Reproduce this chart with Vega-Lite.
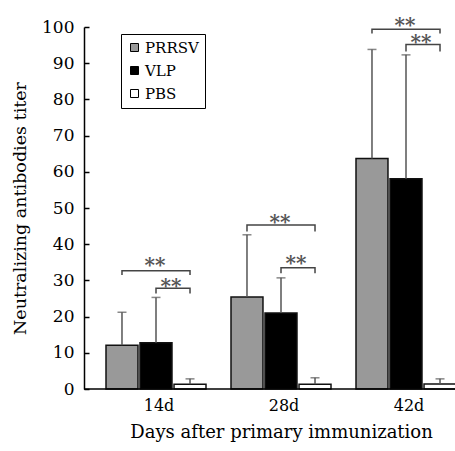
{
  "$schema": "https://vega.github.io/schema/vega-lite/v6.json",
  "width": 371,
  "height": 362,
  "autosize": "none",
  "padding": {"left": 84, "top": 27, "right": 0, "bottom": 62},
  "background": "white",
  "config": {
    "view": {"stroke": null},
    "font": "DejaVu Serif",
    "axis": {"labelFont": "DejaVu Serif", "titleFont": "DejaVu Serif", "labelColor": "black", "titleColor": "black", "titleFontWeight": "normal", "grid": false},
    "axisY": {"values": [0, 10, 20, 30, 40, 50, 60, 70, 80, 90, 100], "labelOverlap": false, "labelFontSize": 17, "tickSize": -5, "tickColor": "black", "tickWidth": 1.5, "domainColor": "black", "domainWidth": 1.5, "labelPadding": 15, "titleFontSize": 17.5, "titlePadding": 12},
    "legend": {"labelFont": "DejaVu Serif", "labelColor": "black"}
  },
  "datasets": {
    "bars": [
      {"group": "14d", "series": "PRRSV", "value": 12.1, "upper": 21.2},
      {"group": "14d", "series": "VLP", "value": 12.8, "upper": 25.3},
      {"group": "14d", "series": "PBS", "value": 1.3, "upper": 2.8},
      {"group": "28d", "series": "PRRSV", "value": 25.4, "upper": 42.6},
      {"group": "28d", "series": "VLP", "value": 21.0, "upper": 30.7},
      {"group": "28d", "series": "PBS", "value": 1.3, "upper": 3.1},
      {"group": "42d", "series": "PRRSV", "value": 63.7, "upper": 93.8},
      {"group": "42d", "series": "VLP", "value": 58.1, "upper": 92.3},
      {"group": "42d", "series": "PBS", "value": 1.4, "upper": 2.8}
    ],
    "brackets": [
      {"group": "14d", "series": "PRRSV", "y": 31.5, "id": "14a", "o": 1},
      {"group": "14d", "series": "PRRSV", "y": 32.7, "id": "14a", "o": 2},
      {"group": "14d", "series": "PBS", "y": 32.7, "id": "14a", "o": 3},
      {"group": "14d", "series": "PBS", "y": 31.5, "id": "14a", "o": 4},
      {"group": "14d", "series": "VLP", "y": 26.4, "id": "14b", "o": 1},
      {"group": "14d", "series": "VLP", "y": 27.8, "id": "14b", "o": 2},
      {"group": "14d", "series": "PBS", "y": 27.8, "id": "14b", "o": 3},
      {"group": "14d", "series": "PBS", "y": 26.4, "id": "14b", "o": 4},
      {"group": "28d", "series": "PRRSV", "y": 43.5, "id": "28a", "o": 1},
      {"group": "28d", "series": "PRRSV", "y": 45.3, "id": "28a", "o": 2},
      {"group": "28d", "series": "PBS", "y": 45.3, "id": "28a", "o": 3},
      {"group": "28d", "series": "PBS", "y": 43.5, "id": "28a", "o": 4},
      {"group": "28d", "series": "VLP", "y": 32.0, "id": "28b", "o": 1},
      {"group": "28d", "series": "VLP", "y": 33.5, "id": "28b", "o": 2},
      {"group": "28d", "series": "PBS", "y": 33.5, "id": "28b", "o": 3},
      {"group": "28d", "series": "PBS", "y": 32.0, "id": "28b", "o": 4},
      {"group": "42d", "series": "PRRSV", "y": 98.2, "id": "42a", "o": 1},
      {"group": "42d", "series": "PRRSV", "y": 99.4, "id": "42a", "o": 2},
      {"group": "42d", "series": "PBS", "y": 99.4, "id": "42a", "o": 3},
      {"group": "42d", "series": "PBS", "y": 98.2, "id": "42a", "o": 4},
      {"group": "42d", "series": "VLP", "y": 93.2, "id": "42b", "o": 1},
      {"group": "42d", "series": "VLP", "y": 95.2, "id": "42b", "o": 2},
      {"group": "42d", "series": "PBS", "y": 95.2, "id": "42b", "o": 3},
      {"group": "42d", "series": "PBS", "y": 93.2, "id": "42b", "o": 4}
    ],
    "bigStars": [
      {"group": "14d", "y": 35.6, "label": "**"},
      {"group": "28d", "y": 47.5, "label": "**"},
      {"group": "42d", "y": 101.9, "label": "**"}
    ],
    "smallStars": [
      {"group": "14d", "y": 29.9, "label": "**"},
      {"group": "28d", "y": 36.1, "label": "**"},
      {"group": "42d", "y": 97.1, "label": "**"}
    ],
    "baseline": [{"y": 0}]
  },
  "layer": [
    {
      "data": {"name": "bars"},
      "mark": {"type": "bar", "stroke": "#111111", "strokeWidth": 1.5},
      "encoding": {
        "x": {
          "field": "group", "type": "nominal",
          "scale": {"range": [22, 372], "paddingInner": 0.2, "paddingOuter": 0},
          "axis": {"domain": false, "ticks": false, "labelAngle": 0, "labelFontSize": 16, "labelPadding": 8, "labelOffset": 3, "title": "Days after primary immunization", "titleFontSize": 18, "titlePadding": 10}
        },
        "xOffset": {
          "field": "series", "type": "nominal",
          "scale": {"domain": ["PRRSV", "VLP", "PBS"], "paddingInner": 0.06, "paddingOuter": 0}
        },
        "y": {
          "field": "value", "type": "quantitative",
          "scale": {"domain": [0, 100], "nice": false},
          "axis": {"values": [0, 10, 20, 30, 40, 50, 60, 70, 80, 90, 100], "labelOverlap": false, "title": "Neutralizing antibodies titer"}
        },
        "fill": {
          "field": "series", "type": "nominal",
          "scale": {"domain": ["PRRSV", "VLP", "PBS"], "range": ["#999999", "#000000", "#ffffff"]},
          "legend": {"orient": "none", "legendX": 37, "legendY": 7, "title": null, "strokeColor": "black", "padding": 6, "symbolType": "square", "symbolSize": 64, "symbolStrokeColor": "black", "symbolStrokeWidth": 1, "labelFont": "DejaVu Serif", "labelFontSize": 15, "labelColor": "black", "rowPadding": 7, "labelOffset": 3}
        }
      }
    },
    {
      "data": {"name": "bars"},
      "mark": {"type": "rule", "color": "#555555", "strokeWidth": 1.5},
      "encoding": {
        "x": {"field": "group", "type": "nominal"},
        "xOffset": {"field": "series", "type": "nominal"},
        "y": {"field": "value", "type": "quantitative", "axis": {"values": [0, 10, 20, 30, 40, 50, 60, 70, 80, 90, 100], "labelOverlap": false, "title": "Neutralizing antibodies titer"}},
        "y2": {"field": "upper"}
      }
    },
    {
      "data": {"name": "bars"},
      "mark": {"type": "tick", "color": "#555555", "size": 9, "thickness": 1.5},
      "encoding": {
        "x": {"field": "group", "type": "nominal"},
        "xOffset": {"field": "series", "type": "nominal"},
        "y": {"field": "upper", "type": "quantitative", "axis": {"values": [0, 10, 20, 30, 40, 50, 60, 70, 80, 90, 100], "labelOverlap": false, "title": "Neutralizing antibodies titer"}}
      }
    },
    {
      "data": {"name": "brackets"},
      "mark": {"type": "line", "color": "#444444", "strokeWidth": 1.5},
      "encoding": {
        "x": {"field": "group", "type": "nominal"},
        "xOffset": {"field": "series", "type": "nominal"},
        "y": {"field": "y", "type": "quantitative", "axis": {"values": [0, 10, 20, 30, 40, 50, 60, 70, 80, 90, 100], "labelOverlap": false, "title": "Neutralizing antibodies titer"}},
        "detail": {"field": "id"},
        "order": {"field": "o"}
      }
    },
    {
      "data": {"name": "bigStars"},
      "mark": {"type": "text", "font": "DejaVu Serif", "fontSize": 20, "fontWeight": "bold", "color": "#555555", "baseline": "middle", "dy": 6, "dx": -1},
      "encoding": {
        "x": {"field": "group", "type": "nominal"},
        "y": {"field": "y", "type": "quantitative", "axis": {"values": [0, 10, 20, 30, 40, 50, 60, 70, 80, 90, 100], "labelOverlap": false, "title": "Neutralizing antibodies titer"}},
        "text": {"field": "label"}
      }
    },
    {
      "data": {"name": "smallStars"},
      "mark": {"type": "text", "font": "DejaVu Serif", "fontSize": 20, "fontWeight": "bold", "color": "#555555", "baseline": "middle", "dy": 6, "dx": 15},
      "encoding": {
        "x": {"field": "group", "type": "nominal"},
        "y": {"field": "y", "type": "quantitative", "axis": {"values": [0, 10, 20, 30, 40, 50, 60, 70, 80, 90, 100], "labelOverlap": false, "title": "Neutralizing antibodies titer"}},
        "text": {"field": "label"}
      }
    },
    {
      "data": {"name": "baseline"},
      "mark": {"type": "rule", "color": "black", "strokeWidth": 1.5},
      "encoding": {
        "y": {"field": "y", "type": "quantitative", "axis": {"values": [0, 10, 20, 30, 40, 50, 60, 70, 80, 90, 100], "labelOverlap": false, "title": "Neutralizing antibodies titer"}}
      }
    }
  ]
}
